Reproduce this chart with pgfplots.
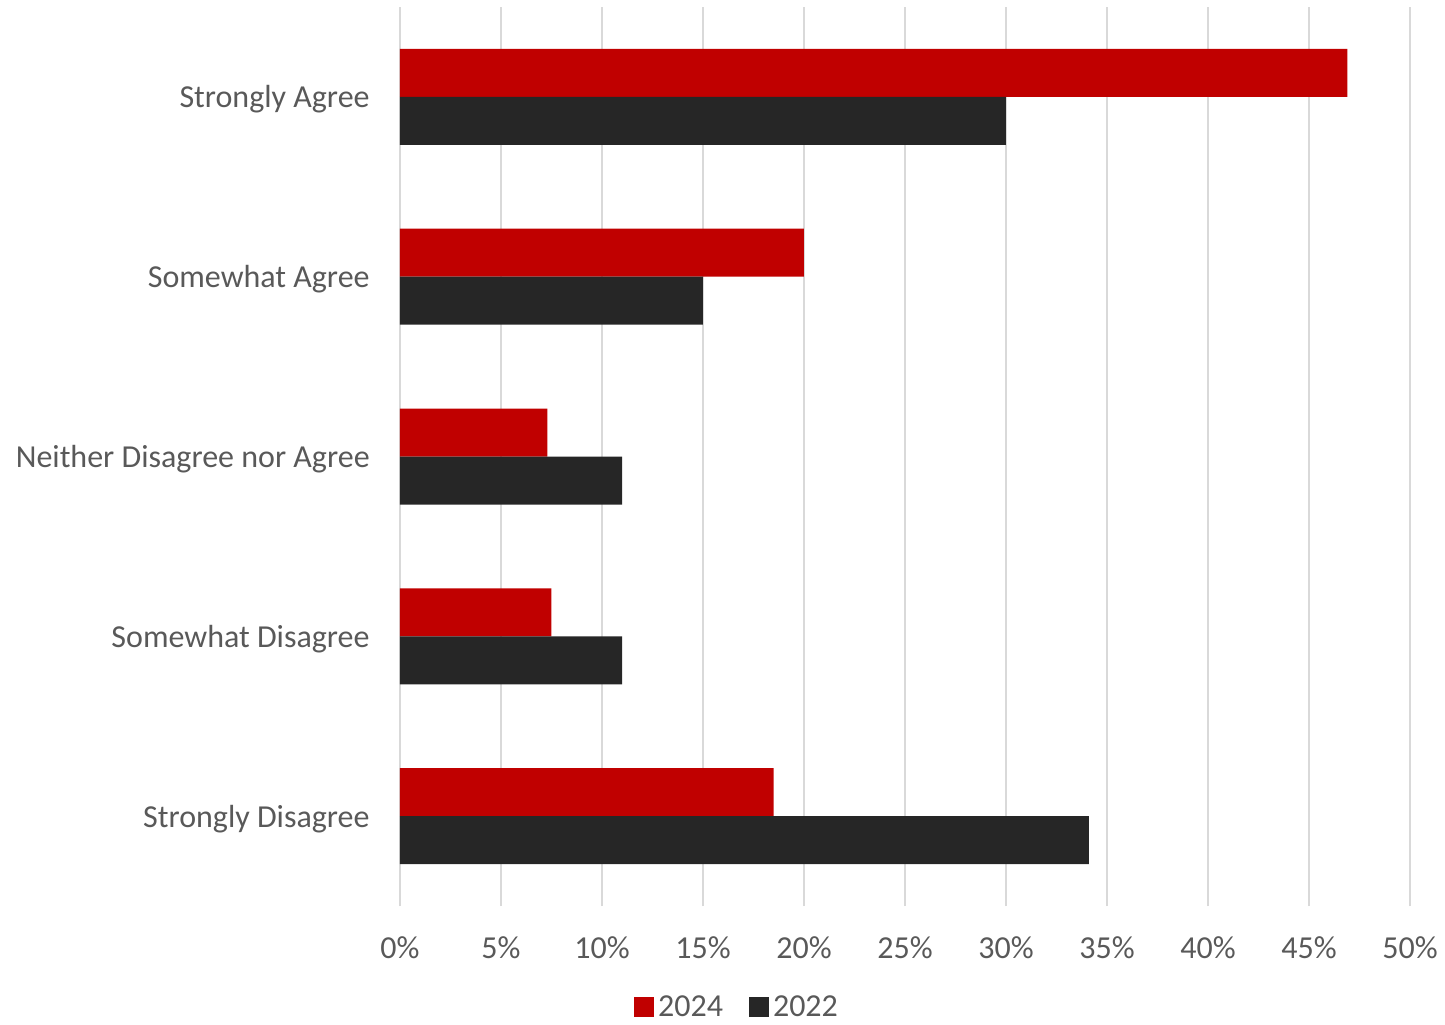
\documentclass[border=0pt]{standalone}
\usepackage{pgfplots}
\pgfplotsset{compat=1.18}
\usepackage{fontspec}
\setmainfont{Carlito}
\definecolor{barred}{HTML}{C00000}
\definecolor{bardark}{HTML}{262626}
\definecolor{gridc}{HTML}{D9D9D9}
\definecolor{txt}{HTML}{595959}
\begin{document}
\begin{tikzpicture}
\begin{axis}[
  at={(0,0)}, anchor=south west,
  scale only axis,
  width=505pt, height=449.5pt,
  xbar, bar width=24pt,
  xmin=0, xmax=50,
  ymin=-0.5, ymax=4.5,
  xtick={0,5,...,50},
  xticklabels={0\%,5\%,10\%,15\%,20\%,25\%,30\%,35\%,40\%,45\%,50\%},
  ytick={0,1,2,3,4},
  yticklabels={Strongly Disagree,Somewhat Disagree,Neither Disagree nor Agree,Somewhat Agree,Strongly Agree},
  xmajorgrids, major grid style={gridc, line width=1pt},
  axis line style={draw=none},
  major tick length=0pt,
  tick style={draw=none},
  xticklabel style={font=\fontsize{16}{19}\selectfont, text=txt, anchor=base, yshift=-26pt},
  yticklabel style={font=\fontsize{16}{19}\selectfont, text=txt, anchor=base east, yshift=-5.5pt, xshift=-15pt, inner sep=0pt},
  legend style={at={(0.3347,-0.1125)}, anchor=center, draw=none, fill=none,
    legend columns=2, font=\fontsize{16}{19}\selectfont, text=txt,
    /tikz/every even column/.append style={column sep=11pt}},
  legend cell align=left,
  legend image code/.code={\fill[#1] (0pt,-5pt) rectangle (10pt,5pt);},
]
\addplot[draw=none, fill=barred, bar shift=12pt] coordinates {
  (46.9,4) (20.0,3) (7.3,2) (7.5,1) (18.5,0)
};
\addlegendentry{2024}
\addplot[draw=none, fill=bardark, bar shift=-12pt] coordinates {
  (30.0,4) (15.0,3) (11.0,2) (11.0,1) (34.1,0)
};
\addlegendentry{2022}
\end{axis}
\pgfresetboundingbox
\useasboundingbox (-200pt,-59pt) rectangle (522.5pt,453pt);
\end{tikzpicture}
\end{document}
